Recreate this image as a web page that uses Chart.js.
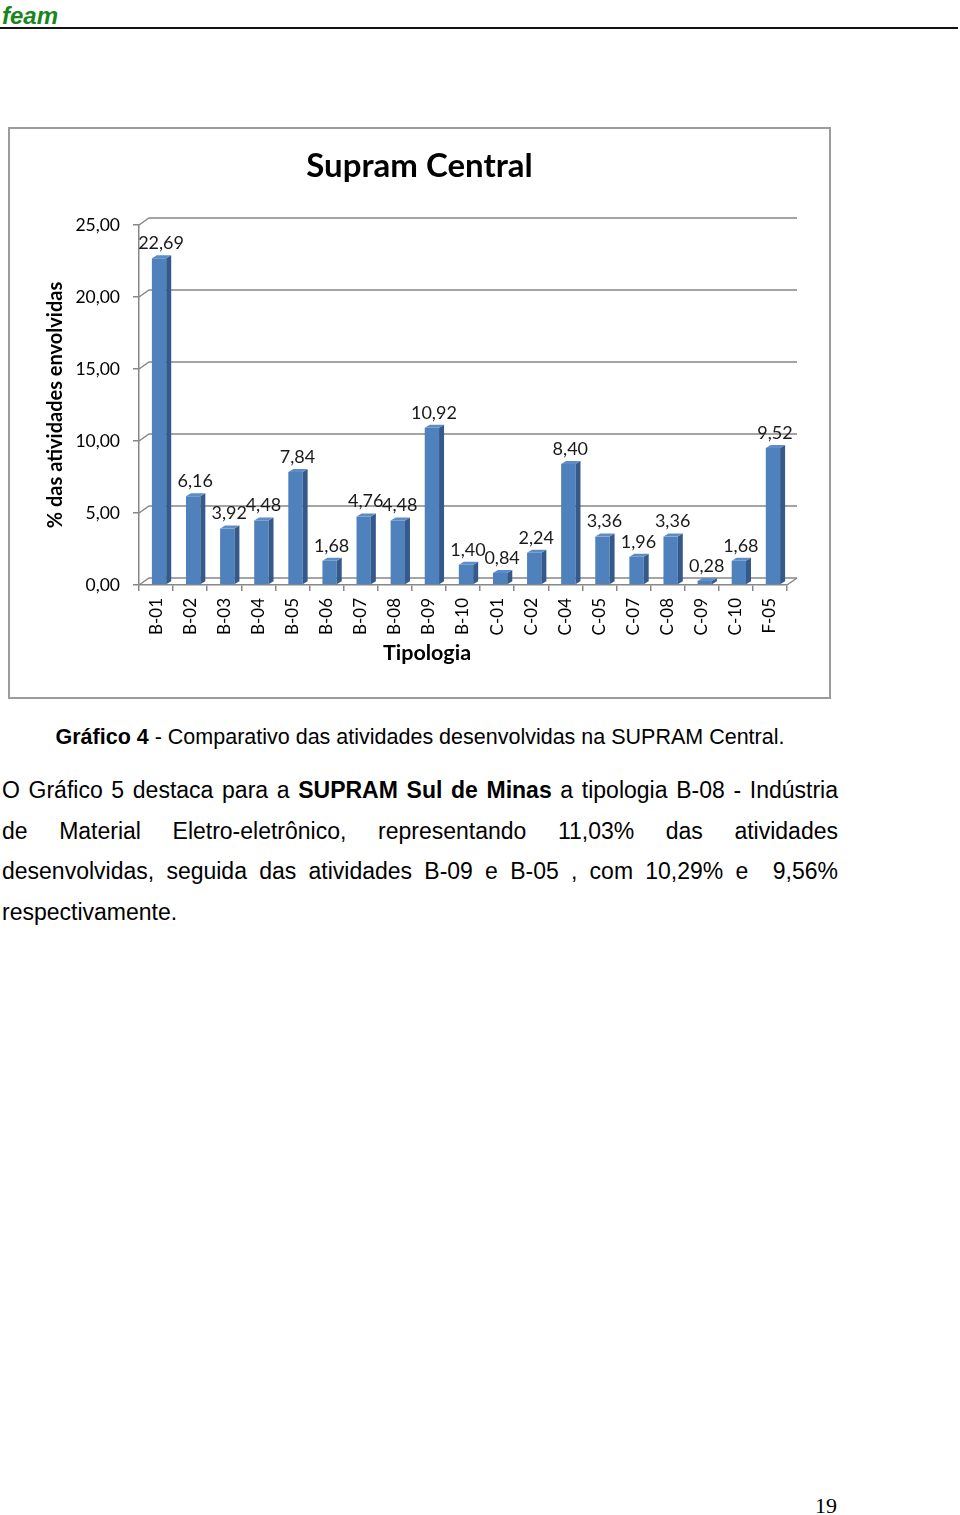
<!DOCTYPE html>
<html>
<head>
<meta charset="utf-8">
<script src="https://cdn.jsdelivr.net/npm/chart.js@4.4.1/dist/chart.umd.min.js"></script>
<style>
    body {
        margin: 0;
        width: 960px;
        height: 1515px;
        background: #fff;
        position: relative;
        font-family: "Liberation Sans", Arial, sans-serif;
        color: #000;
    }

    #cab {
        position: absolute;
        left: 2px;
        top: 2px;
        font-size: 24px;
        font-weight: bold;
        font-style: italic;
        color: #17861b;
    }

    #linha {
        position: absolute;
        left: 0;
        top: 27px;
        width: 958px;
        height: 2px;
        background: #111;
    }

    #caixa {
        position: absolute;
        left: 8px;
        top: 127px;
        width: 823px;
        height: 572px;
        border: 2px solid #9c9c9c;
        box-sizing: border-box;
    }

    #legenda {
        position: absolute;
        left: 0;
        top: 724px;
        width: 840px;
        text-align: center;
        font-size: 21.5px;
        line-height: 26px;
    }

    .lin {
        position: absolute;
        left: 2px;
        width: 836px;
        font-size: 23px;
        line-height: 40px;
        text-align: justify;
        text-align-last: justify;
        white-space: nowrap;
    }

    #pag {
        position: absolute;
        left: 815px;
        top: 1493px;
        font-family: "Liberation Serif", serif;
        font-size: 22px;
    }
</style>
</head>
<body>
<div id="cab">feam</div>
<div id="linha"></div>

<div id="caixa">
    <canvas id="grafico" width="819" height="568"></canvas>
</div>

<div id="legenda"><b>Gráfico 4</b> - Comparativo das atividades desenvolvidas na SUPRAM Central.</div>

<div class="lin" style="top:770px">O Gráfico 5 destaca para a <b>SUPRAM Sul de Minas</b> a tipologia B-08 - Indústria</div>
<div class="lin" style="top:811px">de Material Eletro-eletrônico, representando 11,03% das atividades</div>
<div class="lin" style="top:851px">desenvolvidas, seguida das atividades B-09 e B-05 , com 10,29% e &nbsp;9,56%</div>
<div class="lin" style="top:892px; text-align-last: left">respectivamente.</div>

<div id="pag">19</div>

<script>
const categorias = ["B-01", "B-02", "B-03", "B-04", "B-05", "B-06", "B-07", "B-08", "B-09", "B-10",
    "C-01", "C-02", "C-04", "C-05", "C-07", "C-08", "C-09", "C-10", "F-05"];

const valores = [22.69, 6.16, 3.92, 4.48, 7.84, 1.68, 4.76, 4.48, 10.92, 1.40,
    0.84, 2.24, 8.40, 3.36, 1.96, 3.36, 0.28, 1.68, 9.52];

const titulo = "Supram Central";
const tituloX = "Tipologia";
const tituloY = "% das atividades envolvidas";

const yMax = 25;
const yPasso = 5;

const fonte = "Lato";
const cinza = "#878787";

function virgula(v) {
    return Number(v).toFixed(2).replace(".", ",");
}

// parede de fundo e piso em "3D"
const parede = {
    id: "parede",
    beforeDatasetsDraw(chart) {
        const { ctx, chartArea: a, scales: { y } } = chart;
        const dx = 10, dy = 7;
        ctx.save();
        ctx.strokeStyle = cinza;
        ctx.lineWidth = 1.5;
        y.ticks.forEach(t => {
            const py = y.getPixelForValue(t.value);
            ctx.beginPath();
            ctx.moveTo(a.left, py);
            ctx.lineTo(a.left + dx, py - dy);
            ctx.lineTo(a.right + dx, py - dy);
            ctx.stroke();
        });
        const y0 = y.getPixelForValue(0);
        ctx.beginPath();
        ctx.moveTo(a.right, y0);
        ctx.lineTo(a.right + dx, y0 - dy);
        ctx.stroke();
        ctx.restore();
    },
};

// barras deslocadas um pouco (perspectiva), lados, topo e rótulos
const barras3d = {
    id: "barras3d",
    beforeDatasetsDraw(chart) {
        chart.ctx.save();
        chart.ctx.translate(3, 0);
    },
    afterDatasetsDraw(chart) {
        const { ctx } = chart;
        const meta = chart.getDatasetMeta(0);
        const dx = 5, dy = 3;
        meta.data.forEach(el => {
            const { x, y, base, width } = el.getProps(["x", "y", "base", "width"], true);
            const l = x - width / 2, r = x + width / 2;
            ctx.fillStyle = "#35598a";
            ctx.beginPath();
            ctx.moveTo(r, y);
            ctx.lineTo(r + dx, y - dy);
            ctx.lineTo(r + dx, base - dy);
            ctx.lineTo(r, base);
            ctx.closePath();
            ctx.fill();
            ctx.fillStyle = "#5e8cc6";
            ctx.beginPath();
            ctx.moveTo(l, y);
            ctx.lineTo(l + dx, y - dy);
            ctx.lineTo(r + dx, y - dy);
            ctx.lineTo(r, y);
            ctx.closePath();
            ctx.fill();
        });

        ctx.fillStyle = "#1a1a1a";
        ctx.font = "18px " + fonte;
        ctx.textAlign = "center";
        ctx.textBaseline = "bottom";
        meta.data.forEach((el, i) => {
            ctx.fillText(virgula(valores[i]), el.x + 2, el.y - 6);
        });
        ctx.restore();

        // títulos do gráfico e do eixo x
        const a = chart.chartArea;
        ctx.save();
        ctx.fillStyle = "#000";
        ctx.textAlign = "center";
        ctx.textBaseline = "middle";
        ctx.font = "bold 33px " + fonte;
        ctx.fillText(titulo, chart.width / 2, 37);
        ctx.font = "bold 21.5px " + fonte;
        ctx.fillText(tituloX, (a.left + a.right) / 2 - 36, a.bottom + 68);
        ctx.restore();
    },
};

new Chart(document.getElementById("grafico"), {
    type: "bar",
    data: {
        labels: categorias,
        datasets: [
            {
                data: valores,
                backgroundColor: "#4f81bd",
                borderWidth: 0,
                barPercentage: 0.42,
                categoryPercentage: 1,
            },
        ],
    },
    options: {
        responsive: false,
        animation: false,
        devicePixelRatio: 1,
        layout: { padding: { top: 96, right: 42, left: 0, bottom: 0 } },
        plugins: {
            legend: { display: false },
            tooltip: { enabled: false },
            title: { display: false },
        },
        scales: {
            x: {
                afterFit: s => { s.height = 112; },
                grid: {
                    drawOnChartArea: false,
                    drawTicks: true,
                    tickLength: 6,
                    tickColor: cinza,
                    lineWidth: 1.5,
                },
                border: { display: true, color: cinza, width: 1.5 },
                ticks: {
                    autoSkip: false,
                    minRotation: 90,
                    maxRotation: 90,
                    padding: 7,
                    color: "#000",
                    font: { family: fonte, size: 17 },
                },
            },
            y: {
                min: 0,
                max: yMax,
                afterFit: s => { s.width = 129; },
                grid: {
                    drawOnChartArea: false,
                    drawTicks: true,
                    tickLength: 6,
                    tickColor: cinza,
                    lineWidth: 1.5,
                },
                border: { display: true, color: cinza, width: 1.5 },
                ticks: {
                    stepSize: yPasso,
                    padding: 13,
                    color: "#000",
                    font: { family: fonte, size: 17.5 },
                    callback: v => virgula(v),
                },
                title: {
                    display: true,
                    text: tituloY,
                    color: "#000",
                    font: { family: fonte, size: 20, weight: "bold" },
                    padding: { top: 34, bottom: 0 },
                },
            },
        },
    },
    plugins: [parede, barras3d],
});
</script>
</body>
</html>
